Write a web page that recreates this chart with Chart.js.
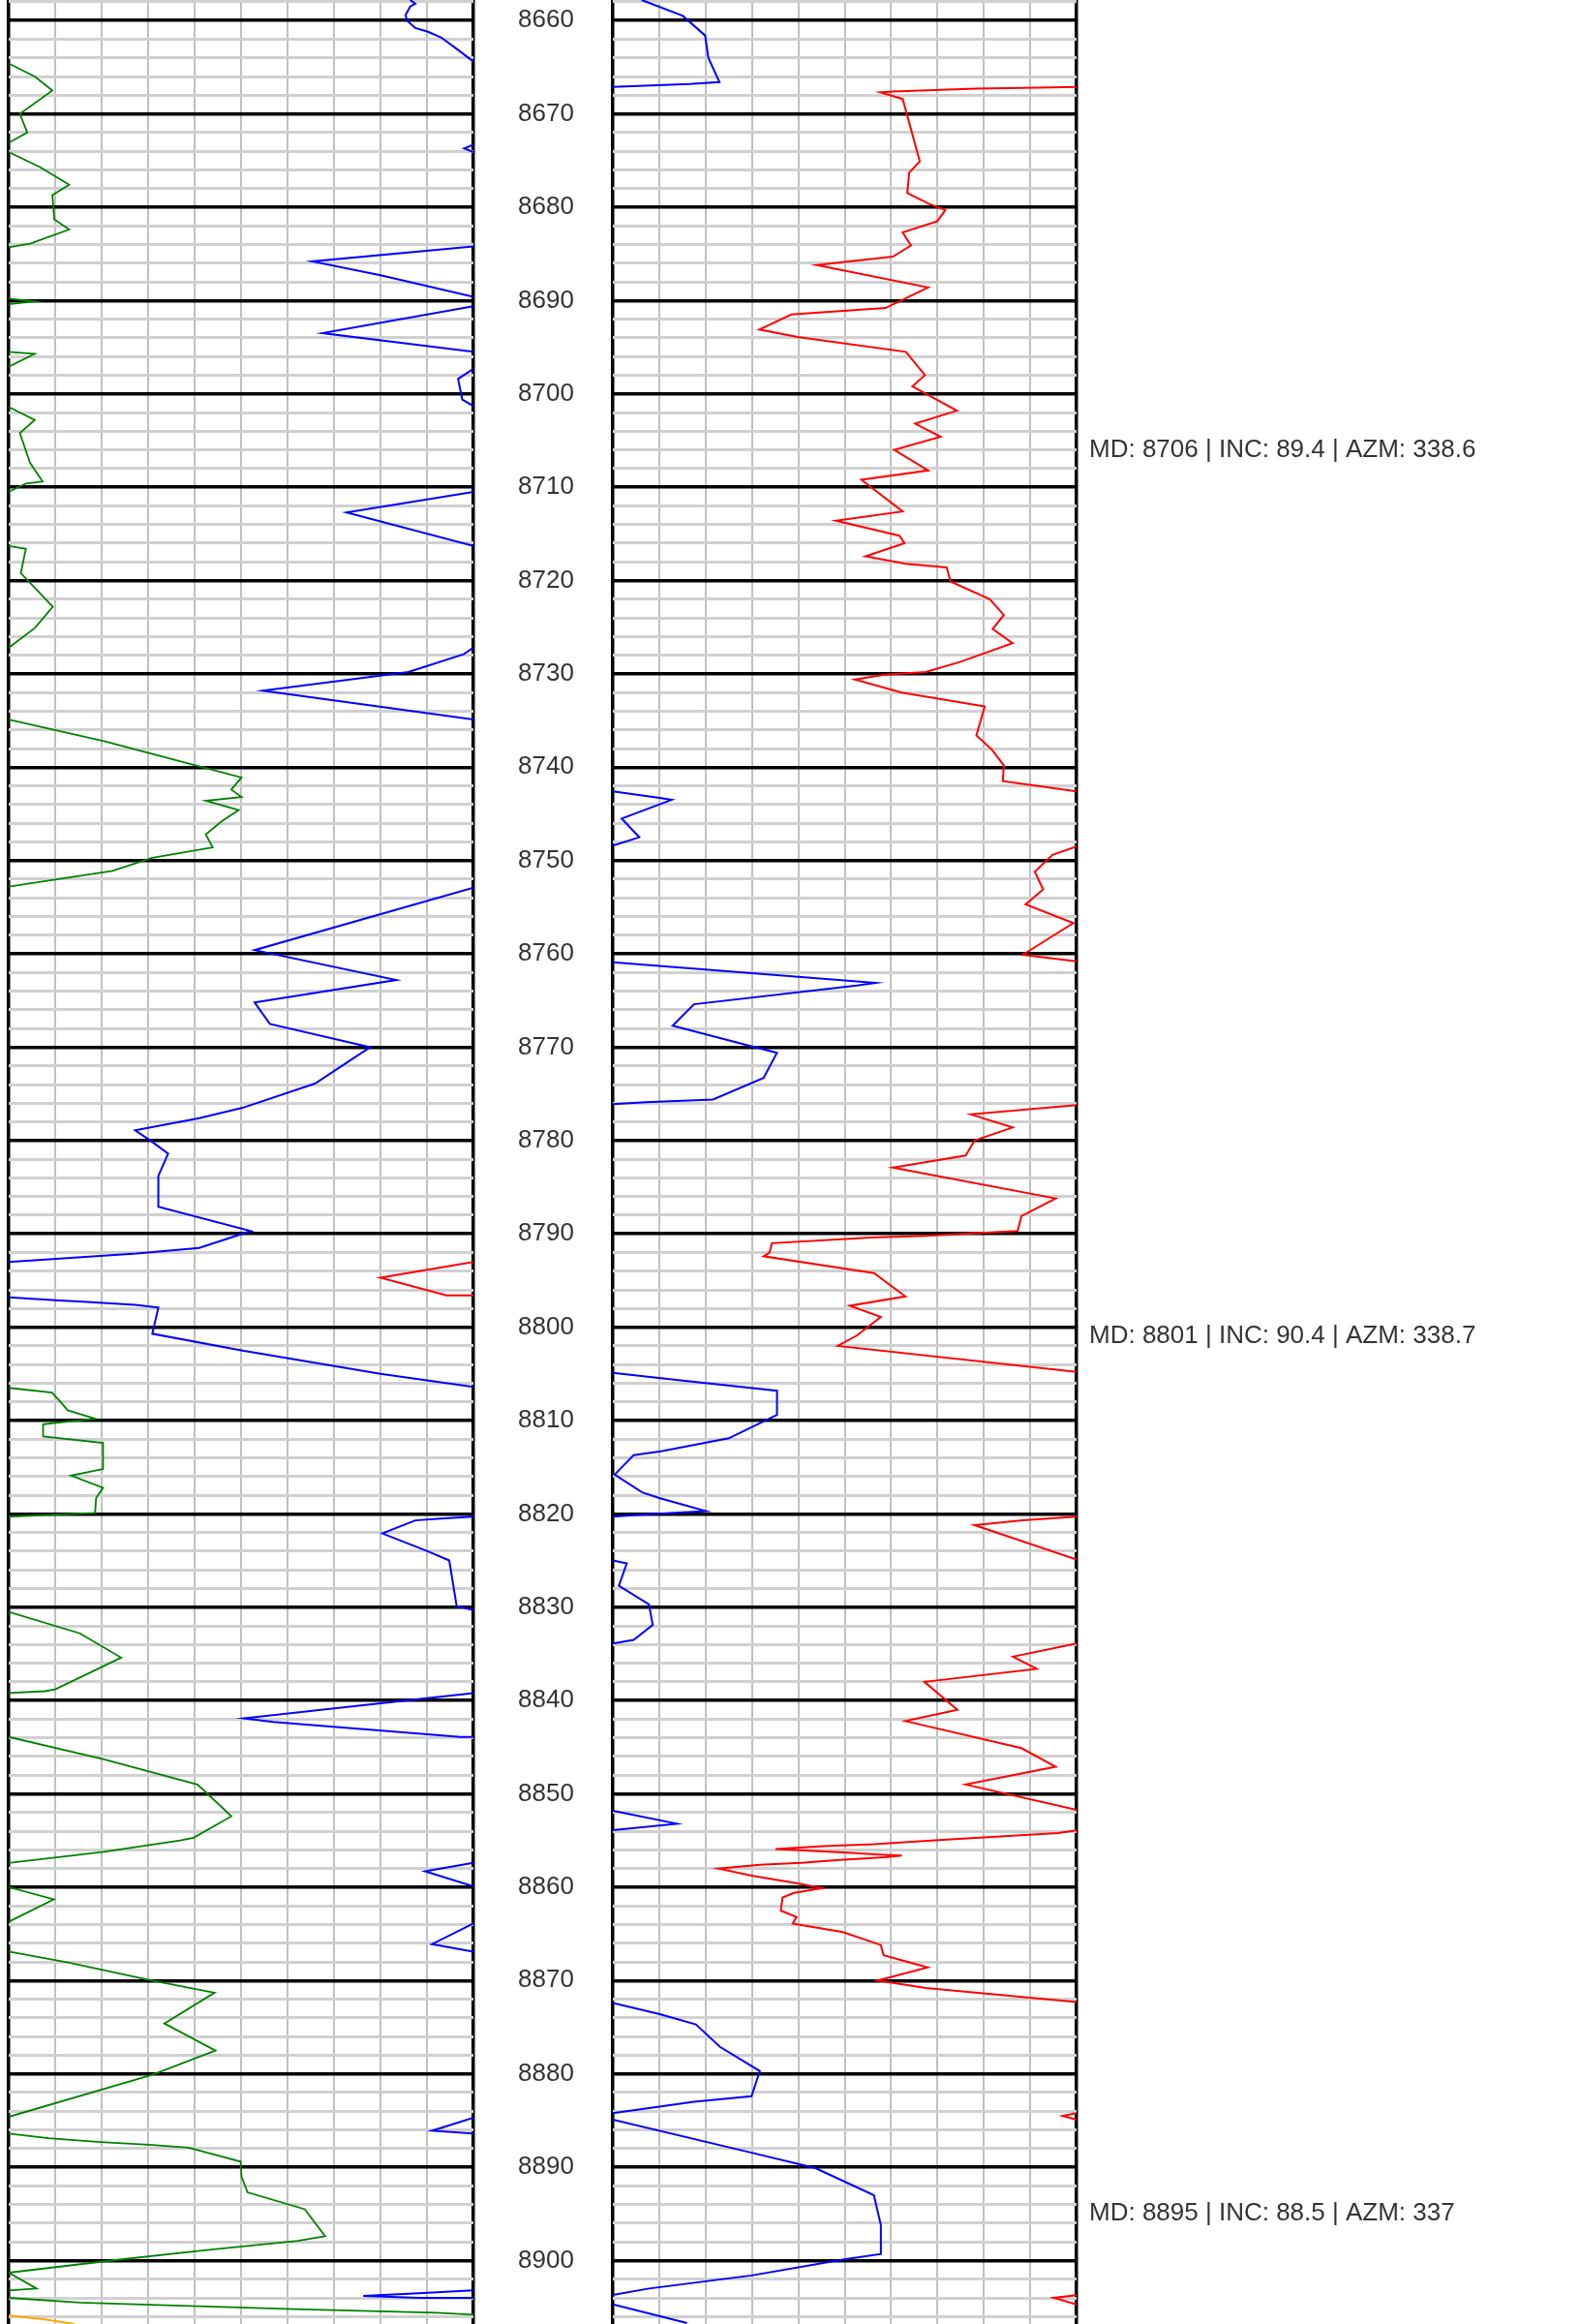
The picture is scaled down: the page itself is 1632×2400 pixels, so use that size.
<!DOCTYPE html>
<html>
<head>
<meta charset="utf-8">
<script src="https://cdn.jsdelivr.net/npm/chart.js@4.4.1/dist/chart.umd.min.js"></script>
<style>
  body { margin: 0; background: #fff; }
  #wrap { position: relative; width: 1632px; height: 2400px; }
  canvas { position: absolute; top: 0; }
</style>
</head>
<body>
<div id="wrap">
  <canvas id="leftTrack" width="633" height="2400" style="left:0"></canvas>
  <canvas id="rightTrack" width="1008" height="2400" style="left:624px"></canvas>
</div>
<script>
// depth axis
const depthMin = 8657.8;
const depthMax = 8906.8;
const depthLabels = [8660, 8670, 8680, 8690, 8700, 8710, 8720, 8730, 8740, 8750, 8760, 8770, 8780,
  8790, 8800, 8810, 8820, 8830, 8840, 8850, 8860, 8870, 8880, 8890, 8900];

// survey stations
const surveyMD = [8706, 8801, 8895];
const surveyINC = [89.4, 90.4, 88.5];
const surveyAZM = [338.6, 338.7, 337];

// left track, [value, depth], null breaks the curve where it wraps
const leftGreen = [
  [0, 8664.6], [5.6, 8666], [9.4, 8667.5], [2.4, 8670], [4, 8672], [0, 8673.1], null,
  [0, 8674.1], [6.7, 8675.7], [13, 8677.6], [9.4, 8678.7], [9.8, 8681.3], [13, 8682.4], [4.6, 8683.9], [0, 8684.3], null,
  [0, 8689.8], [5.6, 8690.1], [0, 8690.4], null,
  [0, 8695.5], [5.6, 8695.7], [0, 8697.1], null,
  [0, 8701.4], [5.6, 8702.8], [2.4, 8704.2], [4.6, 8707.4], [7.3, 8709.4], [3.7, 8709.6], [0, 8710.5], null,
  [0, 8716.3], [3.7, 8716.6], [2.6, 8719.2], [9.5, 8722.8], [5.6, 8725.1], [0, 8727.2], null,
  [0, 8734.9], [20.5, 8737.2], [40.2, 8739.8], [50.1, 8741.1], [47.9, 8742.4], [50.1, 8743.2], [42.4, 8743.6],
  [49.5, 8744.6], [45.8, 8745.8], [42.4, 8747.2], [43.9, 8748.6], [30.9, 8749.7], [22.3, 8751.1], [0, 8752.8], null,
  [0, 8806.5], [9.3, 8807], [11.5, 8808.2], [12.7, 8808.9], [18.6, 8809.8], [7.4, 8810.4], [7.4, 8811.7], [20.3, 8812.4],
  [20.3, 8815.2], [13.4, 8815.9], [20.3, 8817.2], [18.8, 8818.3], [18.6, 8819.9], [0, 8820.3], null,
  [0, 8830.5], [15.3, 8832.8], [24.2, 8835.4], [10, 8838.8], [7.8, 8839], [0, 8839.2], null,
  [0, 8843.9], [20.5, 8846.3], [40.6, 8849], [42.8, 8850], [47.9, 8852.4], [39.8, 8854.7], [36.9, 8855], [20.5, 8856.2], [0, 8857.4], null,
  [0, 8860], [9.7, 8861.3], [0, 8863.7], null,
  [0, 8866.9], [13, 8868.1], [30.9, 8870], [44.3, 8871.3], [33.5, 8874.6], [44.5, 8877.5], [30.9, 8880.1], [0, 8884.6], null,
  [0, 8886.4], [8.6, 8886.9], [19.7, 8887.3], [30.2, 8887.6], [38.7, 8887.9], [49.9, 8889.4], [50.1, 8891], [51.4, 8892.7],
  [63.7, 8894.5], [68.1, 8897.4], [62.2, 8897.9], [42.1, 8898.9], [23.8, 8899.9], [0, 8901.3], [6, 8903], [0, 8903.2], null,
  [0, 8904], [15.3, 8904.5], [33.9, 8904.8], [61.4, 8905.2], [92, 8905.6], [100, 8905.8]
];

const leftBlue = [
  [86.4, 8657.8], [87.5, 8658.2], [86.4, 8658.5], [85.4, 8659.4], [85.7, 8660], [87.5, 8660.8], [90.2, 8661.2],
  [93, 8661.8], [96.3, 8663], [100, 8664.4], null,
  [100, 8673.3], [98, 8673.7], [100, 8674.1], null,
  [100, 8684.2], [65.3, 8685.8], [80, 8687.3], [100, 8689.6], null,
  [100, 8690.6], [67.5, 8693.5], [100, 8695.5], null,
  [100, 8697.3], [96.7, 8698.4], [97.6, 8700.6], [100, 8701.3], null,
  [100, 8710.5], [72.7, 8712.7], [100, 8716.3], null,
  [100, 8727.2], [97.9, 8727.9], [86, 8729.8], [54.7, 8731.8], [100, 8734.9], null,
  [100, 8752.9], [52.9, 8759.6], [83.4, 8762.8], [52.9, 8765.2], [56.2, 8767.5], [77.8, 8770], [65.9, 8773.9],
  [50.3, 8776.5], [41, 8777.6], [27.2, 8778.9], [30.5, 8780], [34.3, 8781.4], [32.2, 8783.8], [32.2, 8787.1],
  [52.1, 8789.7], [41, 8791.5], [27.5, 8792.1], [0, 8793], null,
  [0, 8796.8], [10, 8797.1], [16.8, 8797.3], [27.2, 8797.6], [32.2, 8797.9], [30.9, 8800.7], [50.3, 8802.5], [80, 8805], [100, 8806.4], null,
  [100, 8820.3], [93, 8820.5], [87.5, 8820.7], [80.4, 8822.1], [90.1, 8824], [94.8, 8825], [96.4, 8829.9], [100, 8830.3], null,
  [100, 8839.2], [80, 8840.3], [50.6, 8841.9], [56.9, 8842.3], [97.2, 8843.9], [100, 8843.9], null,
  [100, 8857.4], [89.6, 8858.3], [100, 8859.9], null,
  [100, 8863.9], [91.1, 8866.1], [100, 8866.9], null,
  [100, 8884.7], [91.1, 8886.1], [100, 8886.4], null,
  [100, 8903.2], [88.2, 8903.5], [76.3, 8903.8], [88.2, 8904], [100, 8904]
];

const leftRed = [[100, 8793], [80, 8794.7], [94.2, 8796.6], [100, 8796.6]];
const leftOrange = [[0, 8905.9], [7.8, 8906.3], [14.1, 8906.8]];

// right track
const rightRed = [
  [100, 8667.1], [92, 8667.2], [78.3, 8667.3], [60.4, 8667.6], [57.7, 8667.7], [62.5, 8668.4], [66.2, 8675.1],
  [63.9, 8676.3], [63.5, 8678.5], [68, 8679.6], [71.7, 8680.3], [70, 8681.5], [62.5, 8682.7], [64.3, 8684.1],
  [60.4, 8685.3], [49.5, 8685.9], [44, 8686.2], [68, 8688.6], [58.8, 8690.8], [38.5, 8691.5], [31.6, 8693.1],
  [39.8, 8693.9], [63.2, 8695.5], [67.3, 8698], [64.6, 8699.2], [74.2, 8701.8], [65.2, 8703.2], [70.7, 8704.6],
  [60.7, 8706], [68, 8708.2], [53.6, 8709.2], [62.5, 8712.6], [48.1, 8713.6], [61.8, 8715.2], [62.9, 8716],
  [54.5, 8717.4], [63.2, 8718.2], [72, 8718.6], [72.8, 8720.1], [81.3, 8722], [84.3, 8723.7], [81.9, 8725.2],
  [86.2, 8726.7], [75, 8728.7], [67.5, 8729.8], [58.6, 8730.1], [52.2, 8730.6], [62.3, 8732], [80.2, 8733.5],
  [78.4, 8736.6], [81.7, 8738.1], [84.3, 8739.8], [84.1, 8741.5], [89.9, 8741.9], [100, 8742.6], null,
  [100, 8748.5], [94.8, 8749.4], [91, 8751.2], [92.8, 8753.1], [89, 8754.7], [99.3, 8756.7], [88.4, 8760.1], [100, 8760.8], null,
  [100, 8776.2], [77.2, 8777.2], [86.2, 8778.6], [78, 8780], [76.1, 8781.6], [60.4, 8782.9], [95.5, 8786.2],
  [88.1, 8788.1], [87.3, 8789.7], [67.5, 8790.2], [55.6, 8790.4], [34.3, 8791], [33.8, 8792], [32.5, 8792.4],
  [56.3, 8794.2], [63.1, 8796.7], [51.1, 8797.7], [57.8, 8798.9], [52.6, 8800.9], [48.5, 8802], [100, 8804.8], null,
  [100, 8820.3], [88.4, 8820.7], [78, 8821.2], [100, 8824.9], null,
  [100, 8833.9], [86.3, 8835.3], [91.4, 8836.6], [67.2, 8838], [74.3, 8841], [63.1, 8842.2], [88.1, 8845.1],
  [95.5, 8847.1], [76.1, 8849], [100, 8851.7], null,
  [100, 8853.9], [96, 8854.2], [72, 8854.9], [56.3, 8855.4], [45.5, 8855.6], [35.1, 8855.9], [50.7, 8856.3],
  [57.5, 8856.5], [62.3, 8856.6], [58.6, 8856.8], [48.1, 8857.1], [40.7, 8857.4], [31.7, 8857.6], [22.8, 8858],
  [30.2, 8858.8], [39.9, 8859.6], [45.1, 8860.1], [39.1, 8860.6], [36.6, 8861.1], [36.2, 8862.5], [39.6, 8863.2],
  [38.8, 8863.9], [49.6, 8864.8], [57.8, 8866.2], [58.4, 8867.3], [67.9, 8868.6], [57.1, 8870], [67.5, 8870.8], [100, 8872.3], null,
  [100, 8884.2], [97, 8884.5], [100, 8884.9], null,
  [100, 8903.7], [95.1, 8904], [100, 8904.7]
];

const rightBlue = [
  [6.2, 8657.8], [15.1, 8659.5], [19.9, 8661.6], [20.6, 8664], [23, 8666.6], [16.5, 8666.8], [5.5, 8667], [0, 8667.1], null,
  [0, 8742.6], [10.1, 8743.3], [12.7, 8743.5], [1.9, 8745.5], [5.7, 8747.5], [0, 8748.4], null,
  [0, 8760.9], [56.7, 8763.1], [52.6, 8763.4], [17.5, 8765.4], [12.9, 8767.7], [29.9, 8769.9], [35.4, 8770.6],
  [32.5, 8773.3], [21.6, 8775.6], [7.1, 8775.9], [0, 8776.1], null,
  [0, 8804.9], [14.6, 8805.7], [35.4, 8806.8], [35.4, 8809.4], [25, 8811.9], [10.4, 8813.3], [4.5, 8813.7],
  [0.4, 8815.8], [6.3, 8817.7], [10, 8818.3], [20.1, 8819.7], [6, 8820.1], [0, 8820.3], null,
  [0, 8825], [3, 8825.3], [1.3, 8827.7], [7.8, 8829.7], [8.6, 8831.9], [4.5, 8833.5], [0, 8833.9], null,
  [0, 8851.8], [13.8, 8853.2], [0, 8853.9], null,
  [0, 8872.4], [10.1, 8873.6], [17.9, 8874.7], [23.1, 8877.1], [31.7, 8879.7], [29.9, 8882.4], [17.5, 8883], [0, 8884.2], null,
  [0, 8884.9], [29.5, 8888.4], [43.7, 8890.1], [56.3, 8893], [57.8, 8896.2], [57.8, 8899.3], [49.6, 8899.9],
  [29.9, 8901.6], [7.8, 8903], [0, 8903.7], null,
  [0, 8904.7], [16, 8906.7]
];

const FONT = '"Liberation Sans", Arial, sans-serif';

const toPoints = arr => arr.map(p => p ? { x: p[0], y: p[1] } : { x: null, y: null });

const curve = (data, color, width) => ({
  data: toPoints(data),
  showLine: true,
  borderColor: color,
  borderWidth: width,
  pointRadius: 0,
  pointHoverRadius: 0,
  tension: 0,
  spanGaps: false,
  fill: false
});

const xScale = {
  type: 'linear',
  min: 0,
  max: 100,
  position: 'top',
  ticks: { display: false, stepSize: 10 },
  grid: {
    drawTicks: false,
    color: c => (c.tick.value === 0 || c.tick.value === 100) ? '#000' : '#c0c0c0',
    lineWidth: c => (c.tick.value === 0 || c.tick.value === 100) ? 3.5 : 2
  },
  border: { display: false },
  afterFit: s => { s.height = 0; s.paddingLeft = 0; s.paddingRight = 0; }
};

const depthGrid = {
  drawTicks: false,
  color: c => c.tick.value % 10 === 0 ? '#000' : '#d0d0d0',
  lineWidth: c => c.tick.value % 10 === 0 ? 3.5 : 3
};

// keep the depth axis from reserving room for its end labels
const fixDepthAxis = width => s => {
  s.width = width;
  s.paddingTop = 0;
  s.paddingBottom = 0;
};

new Chart(document.getElementById('leftTrack'), {
  type: 'scatter',
  data: {
    datasets: [
      curve(leftGreen, '#008000', 1.8),
      curve(leftBlue, '#0000ff', 2),
      curve(leftRed, '#ff0000', 2),
      curve(leftOrange, '#ffa500', 2)
    ]
  },
  options: {
    responsive: false,
    animation: false,
    devicePixelRatio: 1,
    layout: { padding: { left: 9, right: 0, top: 0, bottom: 0 } },
    plugins: { legend: { display: false }, tooltip: { enabled: false } },
    scales: {
      x: xScale,
      y: {
        type: 'linear',
        reverse: true,
        min: depthMin,
        max: depthMax,
        position: 'right',
        ticks: {
          stepSize: 2,
          includeBounds: false,
          autoSkip: false,
          crossAlign: 'center',
          padding: 46,
          color: '#333',
          font: { family: FONT, size: 26 },
          callback: v => depthLabels.includes(v) ? String(v) : ''
        },
        grid: depthGrid,
        border: { display: false },
        afterFit: fixDepthAxis(144)
      }
    }
  }
});

const surveyLabels = {
  id: 'surveyLabels',
  afterDraw(chart) {
    const { ctx, chartArea, scales } = chart;
    ctx.save();
    ctx.font = '26px ' + FONT;
    ctx.fillStyle = '#333';
    ctx.textAlign = 'left';
    ctx.textBaseline = 'middle';
    surveyMD.forEach((md, i) => {
      const y = scales.y.getPixelForValue(md);
      ctx.fillText(`MD: ${md} | INC: ${surveyINC[i]} | AZM: ${surveyAZM[i]}`, chartArea.right + 13, y);
    });
    ctx.restore();
  }
};

new Chart(document.getElementById('rightTrack'), {
  type: 'scatter',
  data: {
    datasets: [
      curve(rightRed, '#ff0000', 2),
      curve(rightBlue, '#0000ff', 2)
    ]
  },
  options: {
    responsive: false,
    animation: false,
    devicePixelRatio: 1,
    layout: { padding: { left: 9, right: 520, top: 0, bottom: 0 } },
    plugins: { legend: { display: false }, tooltip: { enabled: false } },
    scales: {
      x: xScale,
      y: {
        type: 'linear',
        reverse: true,
        min: depthMin,
        max: depthMax,
        position: 'left',
        ticks: { display: false, stepSize: 2, includeBounds: false },
        grid: depthGrid,
        border: { display: false },
        afterFit: fixDepthAxis(0)
      }
    }
  },
  plugins: [surveyLabels]
});
</script>
</body>
</html>
